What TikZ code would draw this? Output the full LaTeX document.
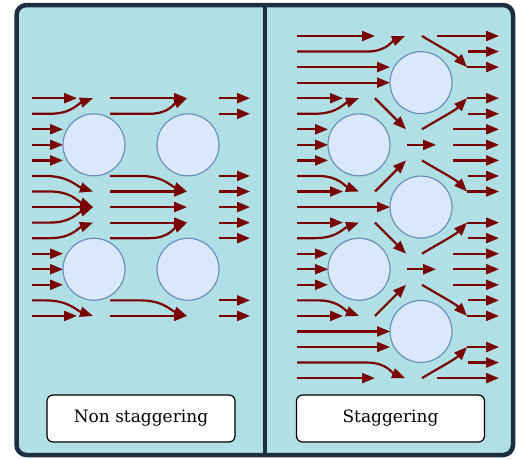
\documentclass[tikz,border=0pt]{standalone}
\usepackage{fontspec}
\setmainfont{DejaVu Serif}
\usetikzlibrary{arrows.meta}
\definecolor{tank}{HTML}{B0E0E6}
\definecolor{framec}{HTML}{1B2F40}
\definecolor{flowred}{HTML}{780000}
\definecolor{pipefill}{HTML}{DAE8FC}
\definecolor{pipeline}{HTML}{6C8EBF}
\tikzset{
  flow/.style={draw=flowred, line width=2.2pt, -{Triangle[length=13pt,width=10pt]}},
  pipe/.style={circle, draw=pipeline, fill=pipefill, line width=1.2pt, minimum size=62pt, inner sep=0pt},
  tag/.style={draw=black, fill=white, line width=1.2pt, rounded corners=6pt, minimum width=188pt, minimum height=47pt, font=\fontsize{17}{20}\selectfont},
}
% straight arrow along row #2 from x=#1 to x=#3
\newcommand\flowline[3]{\draw[flow] (#1,#2) -- (#3,#2);}
% arrow from (#1,row #2), straight to x=#3, then bending into (#4,row #5)
\newcommand\flowcurve[5]{\draw[flow] (#1,#2) -- (#3,#2) .. controls ({#3+0.5*(#4-#3)},#2) and ({#4-0.35*(#4-#3)},{#5+0.35*(#2-#5)}) .. (#4,#5);}
\begin{document}
\begin{tikzpicture}[x=1pt,y=-1pt]
\useasboundingbox (0,0) rectangle (516,458);
% vessel
\draw[fill=tank, draw=framec, line width=4.5pt, rounded corners=10pt] (16.5,5) rectangle (513,455);
\draw[draw=framec, line width=4.5pt] (265,5) -- (265,455);

\begin{scope}[x=1pt, y=-15.55pt, yshift=-36pt]
  % ---------- in-line arrangement ----------
  \node[pipe] (L1) at (94,7) {};
  \node[pipe] (L2) at (188,7) {};
  \node[pipe] (L3) at (94,15) {};
  \node[pipe] (L4) at (188,15) {};
  % first column of streamlines
  \flowline{32}{4}{77}
  \flowcurve{32}{5}{50}{93}{4}
  \foreach \k in {6,7,8,14,15,16} {\flowline{32}{\k}{63}}
  \flowcurve{32}{9}{45}{93}{10}
  \flowcurve{32}{10}{50}{93}{11}
  \flowline{32}{11}{93}
  \flowcurve{32}{12}{50}{93}{11}
  \flowcurve{32}{13}{50}{93}{12}
  \flowcurve{32}{17}{45}{93}{18}
  \flowline{32}{18}{77}
  % second column
  \flowline{110}{4}{187}
  \flowcurve{110}{5}{150}{187}{4}
  \flowcurve{110}{9}{140}{187}{10}
  \foreach \k in {10,11,12} {\flowline{110}{\k}{187}}
  \flowcurve{110}{13}{150}{187}{12}
  \flowcurve{110}{17}{140}{187}{18}
  \flowline{110}{18}{187}
  % outlet
  \foreach \k in {4,5,9,10,11,12,13,17,18} {\flowline{219}{\k}{250}}

  % ---------- staggered arrangement ----------
  \node[pipe] (Ra) at (421,3) {};
  \node[pipe] (Rb) at (359,7) {};
  \node[pipe] (Rc) at (421,11) {};
  \node[pipe] (Rd) at (359,15) {};
  \node[pipe] (Re) at (421,19) {};
  % first column
  \flowline{297}{0}{375}
  \flowcurve{297}{1}{367}{405}{0}
  \foreach \k in {2,3,11,19,20} {\flowline{297}{\k}{390}}
  \foreach \k in {4,10,12,18} {\flowline{297}{\k}{343}}
  \flowcurve{297}{5}{315}{359}{4}
  \foreach \k in {6,7,8,14,15,16} {\flowline{297}{\k}{328}}
  \flowcurve{297}{9}{318}{359}{10}
  \flowcurve{297}{13}{315}{359}{12}
  \flowcurve{297}{17}{318}{359}{18}
  \flowcurve{297}{21}{367}{405}{22}
  \flowline{297}{22}{375}
  % gaps between the rows of pipes
  \draw[flow] (375,4) -- (406,6);
  \draw[flow] (375,10) -- (406,8);
  \draw[flow] (375,12) -- (406,14);
  \draw[flow] (375,18) -- (406,16);
  \flowline{407}{7}{436}
  \flowline{407}{15}{436}
  % leaving the last row
  \draw[flow] (422,0) .. controls (440,0.7) and (455,1.2) .. (467,2);
  \draw[flow] (422,6) .. controls (440,5.3) and (455,4.8) .. (467,4);
  \draw[flow] (422,8) .. controls (440,8.7) and (455,9.2) .. (467,10);
  \draw[flow] (422,14) .. controls (440,13.3) and (455,12.8) .. (467,12);
  \draw[flow] (422,16) .. controls (440,16.7) and (455,17.2) .. (467,18);
  \draw[flow] (422,22) .. controls (440,21.3) and (455,20.8) .. (467,20);
  % outlet
  \flowline{437}{0}{499}
  \flowline{437}{22}{499}
  \foreach \k in {1,5,9,13,17,21} {\flowline{468}{\k}{499}}
  \foreach \k in {2,4,10,12,18,20} {\flowline{467}{\k}{499}}
  \foreach \k in {6,7,8,14,15,16} {\flowline{453}{\k}{499}}
\end{scope}

% captions
\node[tag] (tagL) at (141,418.5) {Non staggering};
\node[tag] (tagR) at (390.5,418.5) {Staggering};
\end{tikzpicture}
\end{document}
